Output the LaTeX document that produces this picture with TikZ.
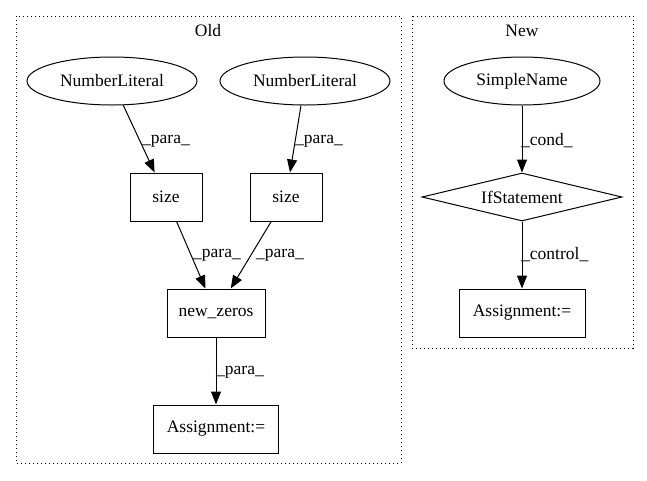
\documentclass[tikz,border=0pt]{standalone}
\usepackage{fontspec}
\setmainfont{Liberation Serif}
\usetikzlibrary{shapes.geometric,arrows.meta}
\begin{document}
\begin{tikzpicture}[x=1pt,y=-1pt,
  every node/.style={font=\fontsize{17.5}{20}\selectfont, inner sep=0pt},
  ell/.style={draw, ellipse, line width=1pt, minimum width=170pt, minimum height=48pt},
  box/.style={draw, rectangle, line width=1pt, minimum height=48pt},
  dia/.style={draw, diamond, aspect=4.17, line width=1pt, minimum width=200pt, minimum height=48pt},
  edge/.style={draw, line width=1pt, -{Triangle[length=13pt,width=10pt]}},
  lbl/.style={anchor=west},
  cluster/.style={draw, line width=1pt, dash pattern=on 1pt off 3pt}]
\useasboundingbox (0,0) rectangle (647,480);
% clusters
\draw[cluster] (16,16) rectangle (401,463);
\node (oldlbl) at (208,31) {Old};
\draw[cluster] (412,16) rectangle (633,348);
\node (newlbl) at (522,31) {New};
% Old nodes
\node[ell] (nl1) at (112,81) {NumberLiteral};
\node[ell] (nl2) at (305,81) {NumberLiteral};
\node[box, minimum width=72pt] (size1) at (166,197) {size};
\node[box, minimum width=72pt] (size2) at (286,197) {size};
\node[box, minimum width=98pt] (nz) at (216,313) {new\_zeros};
\node[box, minimum width=125pt] (asg1) at (216,429) {Assignment:=};
% New nodes
\node[ell, minimum width=156pt] (sn) at (522,81) {SimpleName};
\node[dia] (ifs) at (522,197) {IfStatement};
\node[box, minimum width=126pt] (asg2) at (522,313) {Assignment:=};
% edges
\draw[edge] (nl1) -- (size1);
\draw[edge] (nl2) -- (size2);
\draw[edge] (size1) -- (nz);
\draw[edge] (size2) -- (nz);
\draw[edge] (nz) -- (asg1);
\draw[edge] (sn) -- (ifs);
\draw[edge] (ifs) -- (asg2);
% edge labels
\node[lbl] (l1) at (142,141) {\_para\_};
\node[lbl] (l2) at (295,141) {\_para\_};
\node[lbl] (l3) at (193,255) {\_para\_};
\node[lbl] (l4) at (256,255) {\_para\_};
\node[lbl] (l5) at (216,372) {\_para\_};
\node[lbl] (l6) at (521,141) {\_cond\_};
\node[lbl] (l7) at (521,255) {\_control\_};
\end{tikzpicture}
\end{document}
